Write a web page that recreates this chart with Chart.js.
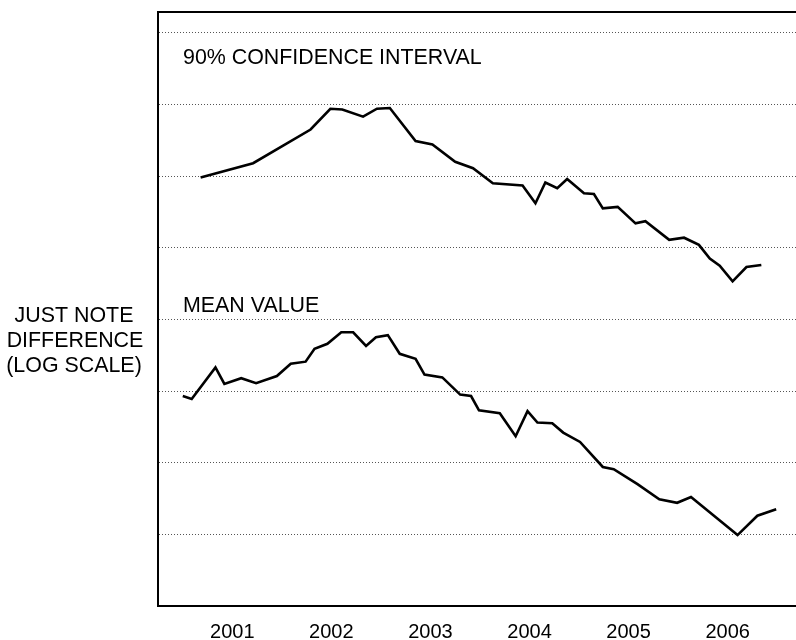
<!DOCTYPE html>
<html>
<head>
<meta charset="utf-8">
<script src="https://cdn.jsdelivr.net/npm/chart.js@4/dist/chart.umd.min.js"></script>
<style>
  html, body { margin: 0; padding: 0; background: #fff; }
  #wrap { width: 796px; height: 640px; }
</style>
</head>
<body>
<div id="wrap"><canvas id="jndChart"></canvas></div>
<script>
// ---------- DATA ----------
const yearLabels = ['2001', '2002', '2003', '2004', '2005', '2006'];
const yearTicks = [2001.5, 2002.5, 2003.5, 2004.5, 2005.5, 2006.5];
const gridValues = [1, 2, 3, 4, 5, 6, 7, 8];

// 90% confidence interval (log JND units)
const ciYears = [2001.18, 2001.71, 2002.29, 2002.49, 2002.61, 2002.82, 2002.96, 2003.09,
  2003.35, 2003.52, 2003.75, 2003.93, 2004.13, 2004.43, 2004.56, 2004.66, 2004.78, 2004.88,
  2005.05, 2005.15, 2005.24, 2005.39, 2005.57, 2005.67, 2005.91, 2006.06, 2006.21, 2006.32,
  2006.42, 2006.55, 2006.69, 2006.84];
const ciValues = [5.98, 6.18, 6.65, 6.94, 6.93, 6.83, 6.94, 6.95,
  6.49, 6.44, 6.20, 6.11, 5.90, 5.87, 5.62, 5.91, 5.83, 5.96,
  5.76, 5.75, 5.55, 5.57, 5.34, 5.37, 5.11, 5.14, 5.04, 4.85,
  4.75, 4.53, 4.73, 4.76];

// mean value (log JND units)
const meanYears = [2001.00, 2001.09, 2001.33, 2001.42, 2001.59, 2001.74, 2001.95, 2002.09,
  2002.24, 2002.33, 2002.46, 2002.60, 2002.72, 2002.85, 2002.95, 2003.07, 2003.19, 2003.35,
  2003.44, 2003.62, 2003.80, 2003.91, 2003.99, 2004.20, 2004.36, 2004.48, 2004.58, 2004.73,
  2004.84, 2005.01, 2005.24, 2005.35, 2005.59, 2005.81, 2005.99, 2006.13, 2006.60, 2006.80,
  2006.99];
const meanValues = [2.93, 2.89, 3.33, 3.10, 3.18, 3.11, 3.21, 3.38,
  3.41, 3.59, 3.66, 3.82, 3.82, 3.63, 3.75, 3.78, 3.52, 3.45,
  3.23, 3.19, 2.95, 2.93, 2.73, 2.69, 2.37, 2.72, 2.56, 2.55,
  2.42, 2.29, 1.94, 1.91, 1.70, 1.49, 1.44, 1.52, 0.99, 1.26,
  1.35];

const FONT = '"Liberation Sans", Arial, Helvetica, sans-serif';

function toPoints(xs, ys) {
    return xs.map((x, i) => ({ x: x, y: ys[i] }));
}

// ---------- TEXT + TOP FRAME ----------
const notesPlugin = {
    id: 'notes',
    afterDraw(chart) {
        const ctx = chart.ctx;
        const area = chart.chartArea;
        ctx.save();

        // top frame line
        ctx.strokeStyle = '#000';
        ctx.lineWidth = 2;
        ctx.beginPath();
        ctx.moveTo(area.left - 1, area.top);
        ctx.lineTo(chart.width, area.top);
        ctx.stroke();

        ctx.fillStyle = '#000';
        ctx.font = '21.4px ' + FONT;
        ctx.textBaseline = 'alphabetic';
        ctx.textAlign = 'left';
        ctx.fillText('90% CONFIDENCE INTERVAL', 183, 64);
        ctx.fillText('MEAN VALUE', 183, 312);

        ctx.textAlign = 'center';
        ctx.fillText('JUST NOTE', 74, 322);
        ctx.fillText('DIFFERENCE', 75, 347);
        ctx.fillText('(LOG SCALE)', 74, 372);
        ctx.restore();
    }
};

// ---------- CHART ----------
const lineStyle = {
    borderColor: '#000',
    borderWidth: 2.6,
    pointRadius: 0,
    tension: 0,
    fill: false
};

new Chart(document.getElementById('jndChart'), {
    type: 'line',
    data: {
        datasets: [
            Object.assign({ label: '90% CONFIDENCE INTERVAL', data: toPoints(ciYears, ciValues) }, lineStyle),
            Object.assign({ label: 'MEAN VALUE', data: toPoints(meanYears, meanValues) }, lineStyle)
        ]
    },
    options: {
        responsive: true,
        maintainAspectRatio: false,
        animation: false,
        layout: { padding: { top: 12, left: 0, right: 0, bottom: 0 } },
        plugins: {
            legend: { display: false },
            tooltip: { enabled: false }
        },
        scales: {
            x: {
                type: 'linear',
                min: 2000.75,
                max: 2007.19,
                afterBuildTicks: axis => { axis.ticks = yearTicks.map(v => ({ value: v })); },
                afterFit: axis => { axis.height = 34; },
                grid: { display: false, drawTicks: false },
                border: { display: true, color: '#000', width: 2 },
                ticks: {
                    padding: 14,
                    maxRotation: 0,
                    autoSkip: false,
                    color: '#000',
                    font: { family: FONT, size: 20 },
                    callback: (v, i) => yearLabels[i]
                }
            },
            y: {
                type: 'linear',
                min: 0,
                max: 8.29,
                afterBuildTicks: axis => { axis.ticks = gridValues.map(v => ({ value: v })); },
                afterFit: axis => { axis.width = 158; },
                grid: { display: true, drawTicks: false, color: '#555', lineWidth: 1 },
                // in v4 border.dash styles the grid lines
                border: { display: true, color: '#000', width: 2, dash: [1, 2] },
                ticks: { display: false }
            }
        }
    },
    plugins: [notesPlugin]
});
</script>
</body>
</html>
